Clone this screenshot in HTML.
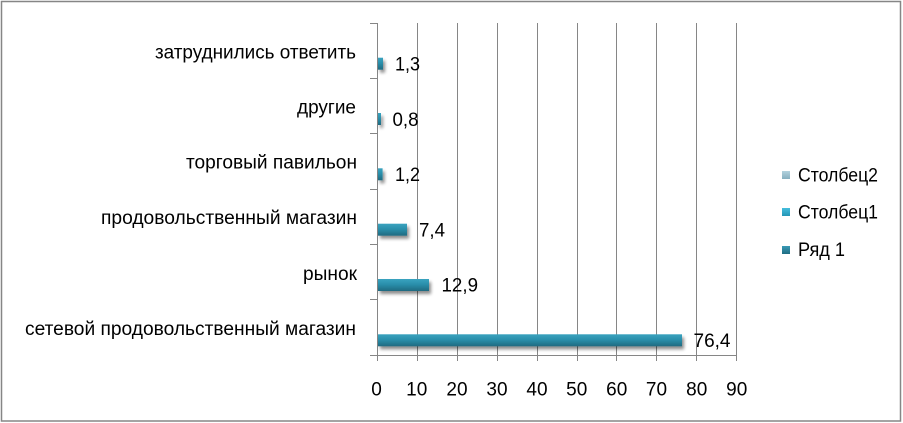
<!DOCTYPE html>
<html>
<head>
<meta charset="utf-8">
<style>
html,body{margin:0;padding:0;background:#fff;}
svg{display:block;}
text{font-family:"Liberation Sans","DejaVu Sans",sans-serif;fill:#000;}
</style>
</head>
<body>
<svg width="903" height="423" viewBox="0 0 903 423" xmlns="http://www.w3.org/2000/svg">
<defs>
<linearGradient id="bar" x1="0" y1="0" x2="0" y2="1">
<stop offset="0" stop-color="#3aa3bf"/>
<stop offset="0.45" stop-color="#2a8fab"/>
<stop offset="1" stop-color="#1f6a80"/>
</linearGradient>
<linearGradient id="lg1" x1="0" y1="0" x2="0" y2="1">
<stop offset="0" stop-color="#3a9ab5"/>
<stop offset="1" stop-color="#1f6d83"/>
</linearGradient>
<linearGradient id="lg2" x1="0" y1="0" x2="0" y2="1">
<stop offset="0" stop-color="#45bedd"/>
<stop offset="1" stop-color="#2496b6"/>
</linearGradient>
<linearGradient id="lg3" x1="0" y1="0" x2="0" y2="1">
<stop offset="0" stop-color="#b3d2de"/>
<stop offset="1" stop-color="#86afbf"/>
</linearGradient>
<filter id="sh" x="-10%" y="-50%" width="130%" height="250%">
<feGaussianBlur in="SourceAlpha" stdDeviation="1.6"/>
<feOffset dx="2" dy="3" result="b"/>
<feComponentTransfer><feFuncA type="linear" slope="0.45"/></feComponentTransfer>
<feMerge><feMergeNode/><feMergeNode in="SourceGraphic"/></feMerge>
</filter>
</defs>

<rect x="1.5" y="1.5" width="899" height="419.5" fill="#fff" stroke="#868686" stroke-width="1.5"/>

<g stroke="#868686" stroke-width="1">
<line x1="417.5" y1="23" x2="417.5" y2="361"/>
<line x1="457.5" y1="23" x2="457.5" y2="361"/>
<line x1="497.5" y1="23" x2="497.5" y2="361"/>
<line x1="537.5" y1="23" x2="537.5" y2="361"/>
<line x1="577.5" y1="23" x2="577.5" y2="361"/>
<line x1="616.5" y1="23" x2="616.5" y2="361"/>
<line x1="656.5" y1="23" x2="656.5" y2="361"/>
<line x1="696.5" y1="23" x2="696.5" y2="361"/>
<line x1="736.5" y1="23" x2="736.5" y2="361"/>
<line x1="377.5" y1="23" x2="377.5" y2="361"/>
<line x1="370" y1="355.5" x2="737" y2="355.5"/>
<line x1="370" y1="23.5" x2="377.5" y2="23.5"/>
<line x1="370" y1="78.5" x2="377.5" y2="78.5"/>
<line x1="370" y1="133.5" x2="377.5" y2="133.5"/>
<line x1="370" y1="189.5" x2="377.5" y2="189.5"/>
<line x1="370" y1="244.5" x2="377.5" y2="244.5"/>
<line x1="370" y1="299.5" x2="377.5" y2="299.5"/>
</g>

<g filter="url(#sh)" fill="url(#bar)">
<rect x="378" y="57.7" width="5" height="12"/>
<rect x="378" y="113" width="3" height="12"/>
<rect x="378" y="168.3" width="4.6" height="12"/>
<rect x="378" y="223.7" width="29" height="12"/>
<rect x="378" y="279" width="51" height="12"/>
<rect x="378" y="334.3" width="304" height="12"/>
</g>

<g font-size="19">
<text x="395" y="70.5" textLength="25" lengthAdjust="spacingAndGlyphs">1,3</text>
<text x="392.5" y="125.8" textLength="26" lengthAdjust="spacingAndGlyphs">0,8</text>
<text x="395" y="181" textLength="25" lengthAdjust="spacingAndGlyphs">1,2</text>
<text x="419" y="236.4" textLength="26" lengthAdjust="spacingAndGlyphs">7,4</text>
<text x="441.5" y="291.7" textLength="36.5" lengthAdjust="spacingAndGlyphs">12,9</text>
<text x="693.5" y="347" textLength="37" lengthAdjust="spacingAndGlyphs">76,4</text>
</g>

<g font-size="19" text-anchor="end">
<text x="356" y="58.5" textLength="201" lengthAdjust="spacingAndGlyphs">затруднились ответить</text>
<text x="356" y="113.5" textLength="59" lengthAdjust="spacingAndGlyphs">другие</text>
<text x="357" y="168.5" textLength="171" lengthAdjust="spacingAndGlyphs">торговый павильон</text>
<text x="357" y="224" textLength="256" lengthAdjust="spacingAndGlyphs">продовольственный магазин</text>
<text x="357" y="280" textLength="54" lengthAdjust="spacingAndGlyphs">рынок</text>
<text x="356" y="335" textLength="331" lengthAdjust="spacingAndGlyphs">сетевой продовольственный магазин</text>
</g>

<g font-size="19" text-anchor="middle">
<text x="376.5" y="395.5">0</text>
<text x="416.7" y="395.5">10</text>
<text x="457" y="395.5">20</text>
<text x="497" y="395.5">30</text>
<text x="537" y="395.5">40</text>
<text x="576.7" y="395.5">50</text>
<text x="616.7" y="395.5">60</text>
<text x="656.5" y="395.5">70</text>
<text x="696.7" y="395.5">80</text>
<text x="736.7" y="395.5">90</text>
</g>

<rect x="782" y="171" width="8" height="8" fill="url(#lg3)"/>
<rect x="782" y="208" width="8" height="8" fill="url(#lg2)"/>
<rect x="782" y="246" width="8" height="8" fill="url(#lg1)"/>
<g font-size="19">
<text x="798" y="181.5" textLength="80" lengthAdjust="spacingAndGlyphs">Столбец2</text>
<text x="798" y="218.5" textLength="80" lengthAdjust="spacingAndGlyphs">Столбец1</text>
<text x="798" y="256" textLength="47" lengthAdjust="spacingAndGlyphs">Ряд 1</text>
</g>
</svg>
</body>
</html>
